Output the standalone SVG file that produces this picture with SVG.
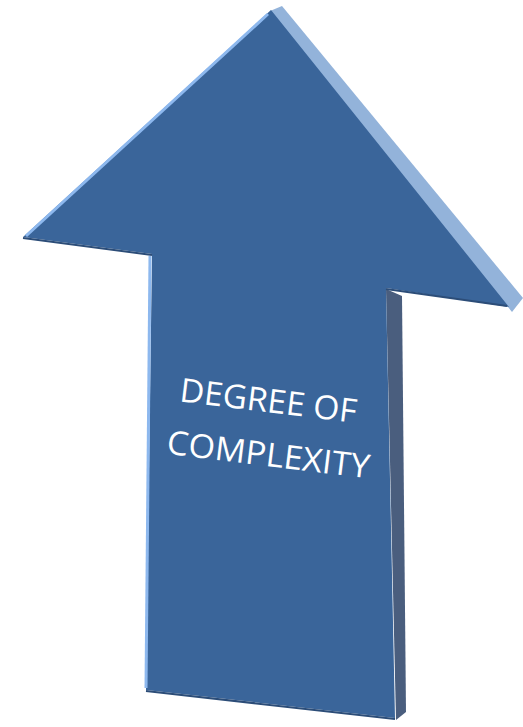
<svg xmlns="http://www.w3.org/2000/svg" width="523" height="727" viewBox="0 0 523 727">
<defs>
<style>
.face{fill:#3a659a;}
.bevel{fill:#93b3da;}
.side{fill:#4a5e7e;}
.hl{fill:none;stroke:#8db8ee;stroke-width:3;}
.sh{fill:none;stroke:#2c4d78;stroke-width:2;}
.lbl{font-family:"Open Sans","Liberation Sans",sans-serif;font-size:33px;fill:#ffffff;text-anchor:middle;}
</style>
</defs>
<rect width="523" height="727" fill="#ffffff"/>
<g id="arrow">
<polygon class="side" points="386,289 402,296 406,712 396,720"/>
<polygon class="bevel" points="270,11 282,6 523,298 512,312"/>
<polygon class="face" points="271,10 509,307 386,288 395,718 146,690 152,254 23,237"/>
<polyline class="sh" points="23,238 152,255"/>
<polyline class="sh" points="146,691 395,719"/>
<polyline class="sh" points="386,289 507,306"/>
<polyline class="hl" points="150,256 146,688"/>
<polyline class="hl" points="26,236 268,14"/>
</g>
<g id="label">
<text class="lbl" transform="translate(267,412) rotate(7)" textLength="178" lengthAdjust="spacingAndGlyphs">DEGREE OF</text>
<text class="lbl" transform="translate(267,466) rotate(7)" textLength="204" lengthAdjust="spacingAndGlyphs">COMPLEXITY</text>
</g>
</svg>
